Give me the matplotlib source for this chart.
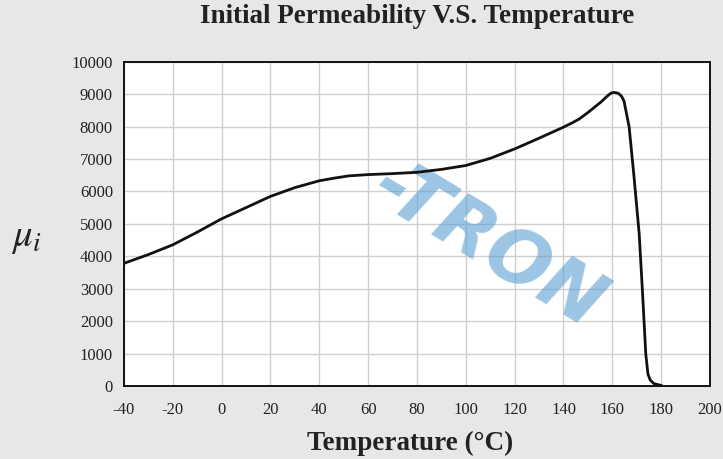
"""Initial permeability vs temperature curve."""

import matplotlib
matplotlib.use("Agg")
import matplotlib.pyplot as plt

temp_c = [-40, -30, -20, -10, 0, 9, 20, 30, 40, 46, 52, 60, 70, 80, 90, 100, 110,
          120, 130, 140, 144, 146.4, 150, 155.3, 158, 159.5, 160.8, 162.5, 163.8,
          164.8, 166.9, 168.9, 171, 172.4, 173.7, 174.6, 175.5, 177, 180]
mu_i = [3790, 4060, 4360, 4750, 5160, 5470, 5850, 6120, 6330, 6410, 6480, 6520,
        6550, 6590, 6680, 6800, 7020, 7310, 7640, 7980, 8130, 8230, 8430, 8750,
        8940, 9030, 9050, 9020, 8930, 8780, 7980, 6440, 4700, 2850, 1000, 380, 200,
        90, 30]

x_ticks = list(range(-40, 201, 20))
y_ticks = list(range(0, 10001, 1000))

BG = "#e6e7e8"
SERIF = ["Liberation Serif", "DejaVu Serif"]


def main() -> None:
    fig = plt.figure(figsize=(7.23, 4.59), dpi=100, facecolor=BG)
    ax = fig.add_axes([0.1715, 0.158, 0.8105, 0.708])
    ax.set_facecolor("white")

    ax.plot(temp_c, mu_i, color="#111111", linewidth=2.0, zorder=3,
            solid_joinstyle="round")

    ax.set_xlim(-40, 200)
    ax.set_ylim(0, 10000)
    ax.set_xticks(x_ticks)
    ax.set_yticks(y_ticks)
    ax.set_xticklabels([str(t) for t in x_ticks], fontfamily=SERIF, fontsize=12)
    ax.set_yticklabels([str(t) for t in y_ticks], fontfamily=SERIF, fontsize=12)
    ax.tick_params(axis="y", length=0, pad=8, colors="#222222")
    ax.tick_params(axis="x", length=0, pad=11, colors="#222222")
    ax.grid(True, color="#d0d0d0", linewidth=1.0, zorder=0)
    for sp in ax.spines.values():
        sp.set_color("#111111")
        sp.set_linewidth(1.4)

    # watermark
    ax.text(0.62, 0.43, "-TRON", transform=ax.transAxes, rotation=-31,
            fontsize=54, fontweight="bold", fontstyle="italic", color="#5a9fd4",
            alpha=0.6, ha="center", va="center", fontfamily="DejaVu Sans", zorder=2)

    fig.text(0.577, 0.963, "Initial Permeability V.S. Temperature", ha="center",
             va="center", fontfamily=SERIF, fontweight="bold", fontsize=19.5,
             color="#222222")
    fig.text(0.567, 0.033, "Temperature (°C)", ha="center", va="center",
             fontfamily=SERIF, fontweight="bold", fontsize=19.5, color="#222222")
    fig.text(0.037, 0.483, r"$\mu_i$", ha="center", va="center", fontsize=28,
             color="#222222", math_fontfamily="stix")

    fig.savefig("out.png", dpi=100, facecolor=BG)
    plt.close(fig)


if __name__ == "__main__":
    main()
